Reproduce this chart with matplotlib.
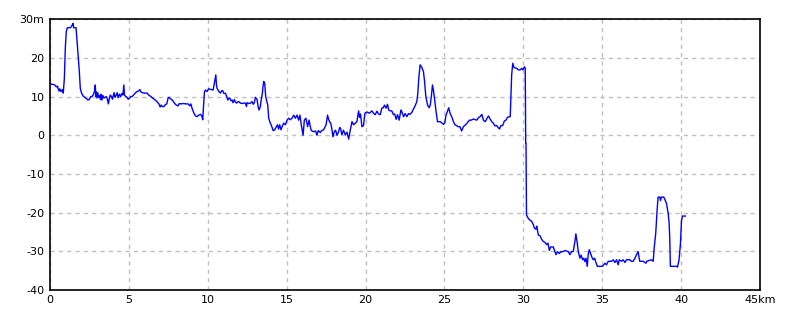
import matplotlib
matplotlib.use("Agg")
import matplotlib.pyplot as plt

km = [0.00,0.10,0.30,0.40,0.48,0.52,0.58,0.62,0.70,0.78,0.84,0.91,0.97,1.03,1.10,1.30,1.40,1.46,1.50,1.65,
      1.71,1.77,1.86,1.92,2.00,2.09,2.20,2.30,2.41,2.50,2.58,2.66,2.75,2.82,2.87,2.90,2.93,2.98,3.03,3.08,
      3.14,3.20,3.24,3.29,3.35,3.42,3.50,3.57,3.63,3.70,3.76,3.82,3.90,3.96,4.01,4.06,4.12,4.18,4.26,4.32,
      4.40,4.48,4.55,4.62,4.68,4.72,4.80,4.88,4.96,5.05,5.12,5.20,5.30,5.42,5.52,5.63,5.70,5.76,5.85,6.00,
      6.16,6.25,6.40,6.50,6.58,6.67,6.75,6.84,6.92,6.98,7.05,7.12,7.22,7.30,7.40,7.49,7.55,7.64,7.75,7.85,
      7.95,8.04,8.12,8.19,8.30,8.46,8.60,8.75,8.86,8.93,9.00,9.12,9.22,9.32,9.43,9.54,9.62,9.68,9.73,9.79,
      9.85,9.96,10.05,10.13,10.25,10.34,10.38,10.45,10.51,10.55,10.59,10.65,10.70,10.80,10.88,10.95,11.02,11.12,11.18,11.27,
      11.34,11.40,11.47,11.54,11.60,11.68,11.75,11.82,11.90,11.96,12.07,12.17,12.30,12.39,12.45,12.49,12.60,12.70,12.80,12.88,
      12.95,13.02,13.12,13.19,13.25,13.33,13.40,13.46,13.50,13.55,13.61,13.67,13.72,13.80,13.86,13.93,14.01,14.08,14.14,14.22,
      14.35,14.42,14.49,14.56,14.64,14.71,14.81,14.92,15.02,15.13,15.23,15.34,15.45,15.55,15.66,15.76,15.84,15.93,16.04,16.12,
      16.22,16.33,16.42,16.50,16.56,16.71,16.83,16.92,17.00,17.13,17.22,17.34,17.50,17.59,17.65,17.72,17.80,17.87,17.93,18.02,
      18.10,18.19,18.29,18.36,18.42,18.50,18.60,18.72,18.82,18.93,19.03,19.14,19.24,19.35,19.45,19.56,19.62,19.68,19.77,19.87,
      19.96,20.09,20.25,20.40,20.50,20.61,20.72,20.82,20.93,21.03,21.12,21.20,21.30,21.39,21.47,21.56,21.66,21.77,21.85,21.94,
      22.03,22.13,22.24,22.30,22.41,22.51,22.62,22.72,22.82,22.93,23.04,23.14,23.25,23.31,23.38,23.46,23.57,23.67,23.74,23.82,
      23.93,24.03,24.10,24.18,24.24,24.30,24.37,24.47,24.56,24.73,24.83,24.94,25.02,25.10,25.18,25.27,25.36,25.46,25.57,25.67,
      25.88,25.98,26.09,26.20,26.41,26.58,26.70,26.83,27.05,27.15,27.26,27.37,27.47,27.58,27.68,27.79,27.89,28.00,28.10,28.20,
      28.30,28.49,28.58,28.69,28.80,28.90,28.99,29.10,29.17,29.20,29.26,29.33,29.41,29.58,29.68,29.80,29.90,29.97,30.07,30.12,
      30.15,30.17,30.20,30.30,30.40,30.53,30.64,30.70,30.80,30.85,30.95,31.06,31.16,31.27,31.37,31.48,31.56,31.65,31.73,31.90,
      32.00,32.07,32.15,32.28,32.38,32.53,32.65,32.85,32.95,33.05,33.16,33.27,33.33,33.42,33.48,33.59,33.66,33.76,33.83,33.90,
      33.97,34.05,34.11,34.18,34.26,34.33,34.43,34.52,34.60,34.69,35.02,35.17,35.27,35.38,35.59,35.70,35.80,35.91,36.01,36.08,
      36.23,36.33,36.44,36.54,36.75,36.85,36.96,37.07,37.17,37.28,37.33,37.38,37.60,37.77,37.82,38.11,38.23,38.29,38.39,38.48,
      38.54,38.65,38.69,38.75,38.90,38.98,39.07,39.18,39.24,39.28,39.32,39.71,39.77,39.87,39.96,40.02,40.08,40.27]

elevation = [13.4,13.2,13.0,12.5,12.7,11.9,11.4,12.0,11.3,11.8,10.9,14.7,22.5,26.8,27.8,27.8,28.4,28.9,27.8,27.8,
      24.6,21.2,16.4,12.1,10.9,10.2,9.8,9.5,9.1,9.3,10.0,10.0,10.5,11.4,13.0,10.0,11.2,9.6,11.0,9.8,
      10.2,9.2,10.6,9.1,10.3,9.6,9.8,10.0,9.4,8.1,9.5,10.4,10.0,9.3,10.2,11.0,9.8,10.2,11.0,9.7,
      10.6,10.0,10.8,10.4,13.0,10.4,10.0,9.8,9.3,9.6,10.0,10.0,10.4,11.0,11.3,11.5,11.8,11.2,11.0,10.9,
      10.9,10.4,10.0,9.6,9.4,9.1,8.8,8.4,8.0,7.3,7.8,7.4,7.4,7.9,8.1,9.7,9.8,9.4,9.1,8.5,
      8.0,7.7,7.6,8.2,8.1,8.2,8.1,8.1,7.6,8.1,7.0,5.7,5.0,4.8,5.2,5.4,5.0,4.0,7.5,11.2,
      11.7,11.3,12.0,11.9,11.8,11.7,12.6,14.3,15.6,13.0,12.1,11.7,11.3,10.9,11.5,11.5,10.8,10.85,10.2,9.1,
      9.6,9.6,8.9,9.1,8.4,9.2,8.6,8.3,8.6,8.7,8.3,8.2,8.3,8.3,7.4,8.4,8.2,8.3,8.7,8.0,
      8.4,9.8,9.3,7.4,6.5,7.4,9.5,10.85,12.6,13.9,13.4,10.0,9.1,7.8,4.4,3.5,2.66,2.0,1.2,1.3,
      2.2,2.7,1.6,2.7,1.4,2.2,3.1,2.7,3.9,4.4,4.0,4.4,5.2,4.4,5.2,3.9,5.2,2.6,0.0,3.9,
      4.4,2.2,3.9,2.2,1.2,0.9,1.1,0.0,1.2,0.7,1.2,1.4,2.7,5.2,4.2,3.5,3.0,1.5,-0.4,0.9,
      1.3,0.0,0.9,2.0,1.7,0.1,1.3,0.1,0.8,-1.0,1.3,3.5,2.7,3.1,3.5,6.3,4.6,5.5,2.2,2.5,
      5.7,6.0,5.7,6.3,5.7,5.3,6.2,5.5,5.3,7.0,7.1,7.8,7.0,8.0,6.5,6.3,6.3,5.3,5.5,4.1,
      5.3,3.9,6.5,6.1,4.8,5.6,4.8,5.6,5.4,5.9,6.8,7.6,8.7,10.8,15.1,18.2,17.5,16.4,13.9,10.0,
      7.8,7.1,7.8,10.4,13.0,11.7,9.5,6.1,3.5,3.5,3.2,2.8,3.2,5.2,6.1,7.1,5.6,4.8,3.5,2.7,
      2.2,2.2,1.1,2.2,3.0,3.9,3.9,4.2,3.9,4.5,4.8,5.4,3.9,3.5,4.2,5.0,4.2,3.5,3.1,2.4,
      2.5,1.6,2.5,2.5,3.7,3.9,4.6,4.8,4.8,8.7,15.6,18.6,17.5,17.3,16.9,16.9,17.3,16.9,17.7,17.3,
      -2.1,-2.1,-20.6,-21.4,-21.9,-22.3,-23.2,-24.0,-24.3,-23.5,-25.8,-26.0,-26.9,-27.5,-27.7,-28.3,-27.9,-29.8,-28.9,-28.9,
      -30.1,-30.9,-30.1,-30.6,-30.1,-30.1,-29.8,-30.1,-30.9,-30.1,-30.1,-27.5,-25.5,-27.9,-30.1,-31.8,-31.0,-32.2,-31.8,-32.7,
      -31.8,-33.9,-30.9,-29.6,-30.5,-31.4,-32.2,-31.8,-32.9,-33.9,-33.9,-33.1,-33.5,-32.6,-32.6,-32.2,-32.9,-32.2,-33.5,-32.2,
      -32.6,-32.2,-32.9,-32.2,-32.2,-32.6,-32.6,-31.8,-30.9,-30.1,-31.5,-32.6,-32.6,-33.1,-32.6,-32.2,-32.6,-29.3,-25.4,-19.3,
      -16.0,-16.0,-16.9,-16.0,-16.0,-16.7,-17.6,-20.2,-22.7,-26.6,-33.9,-33.9,-34.1,-32.2,-27.9,-22.3,-20.9,-20.9]

x_ticks = [0, 5, 10, 15, 20, 25, 30, 35, 40, 45]
x_labels = ["0", "5", "10", "15", "20", "25", "30", "35", "40", "45km"]
y_ticks = [-40, -30, -20, -10, 0, 10, 20, 30]
y_labels = ["-40", "-30", "-20", "-10", "0", "10", "20", "30m"]

fig = plt.figure(figsize=(8, 3.2), dpi=100)
ax = fig.add_axes([0.0625, 0.094, 0.8875, 0.846])
ax.plot(km, elevation, color="#0000ff", linewidth=1.0)
ax.set_xlim(0, 45)
ax.set_ylim(-40, 30)
ax.set_xticks(x_ticks)
ax.set_xticklabels(x_labels)
ax.set_yticks(y_ticks)
ax.set_yticklabels(y_labels)
ax.tick_params(length=0, labelsize=8, pad=4, colors="black")
ax.grid(True, color="#c0c0c0", linestyle=(0, (3, 3)), linewidth=1.0)
ax.set_axisbelow(True)
for s in ax.spines.values():
    s.set_color("black")
    s.set_linewidth(1.2)
fig.savefig("out.png", dpi=100, facecolor="white")
